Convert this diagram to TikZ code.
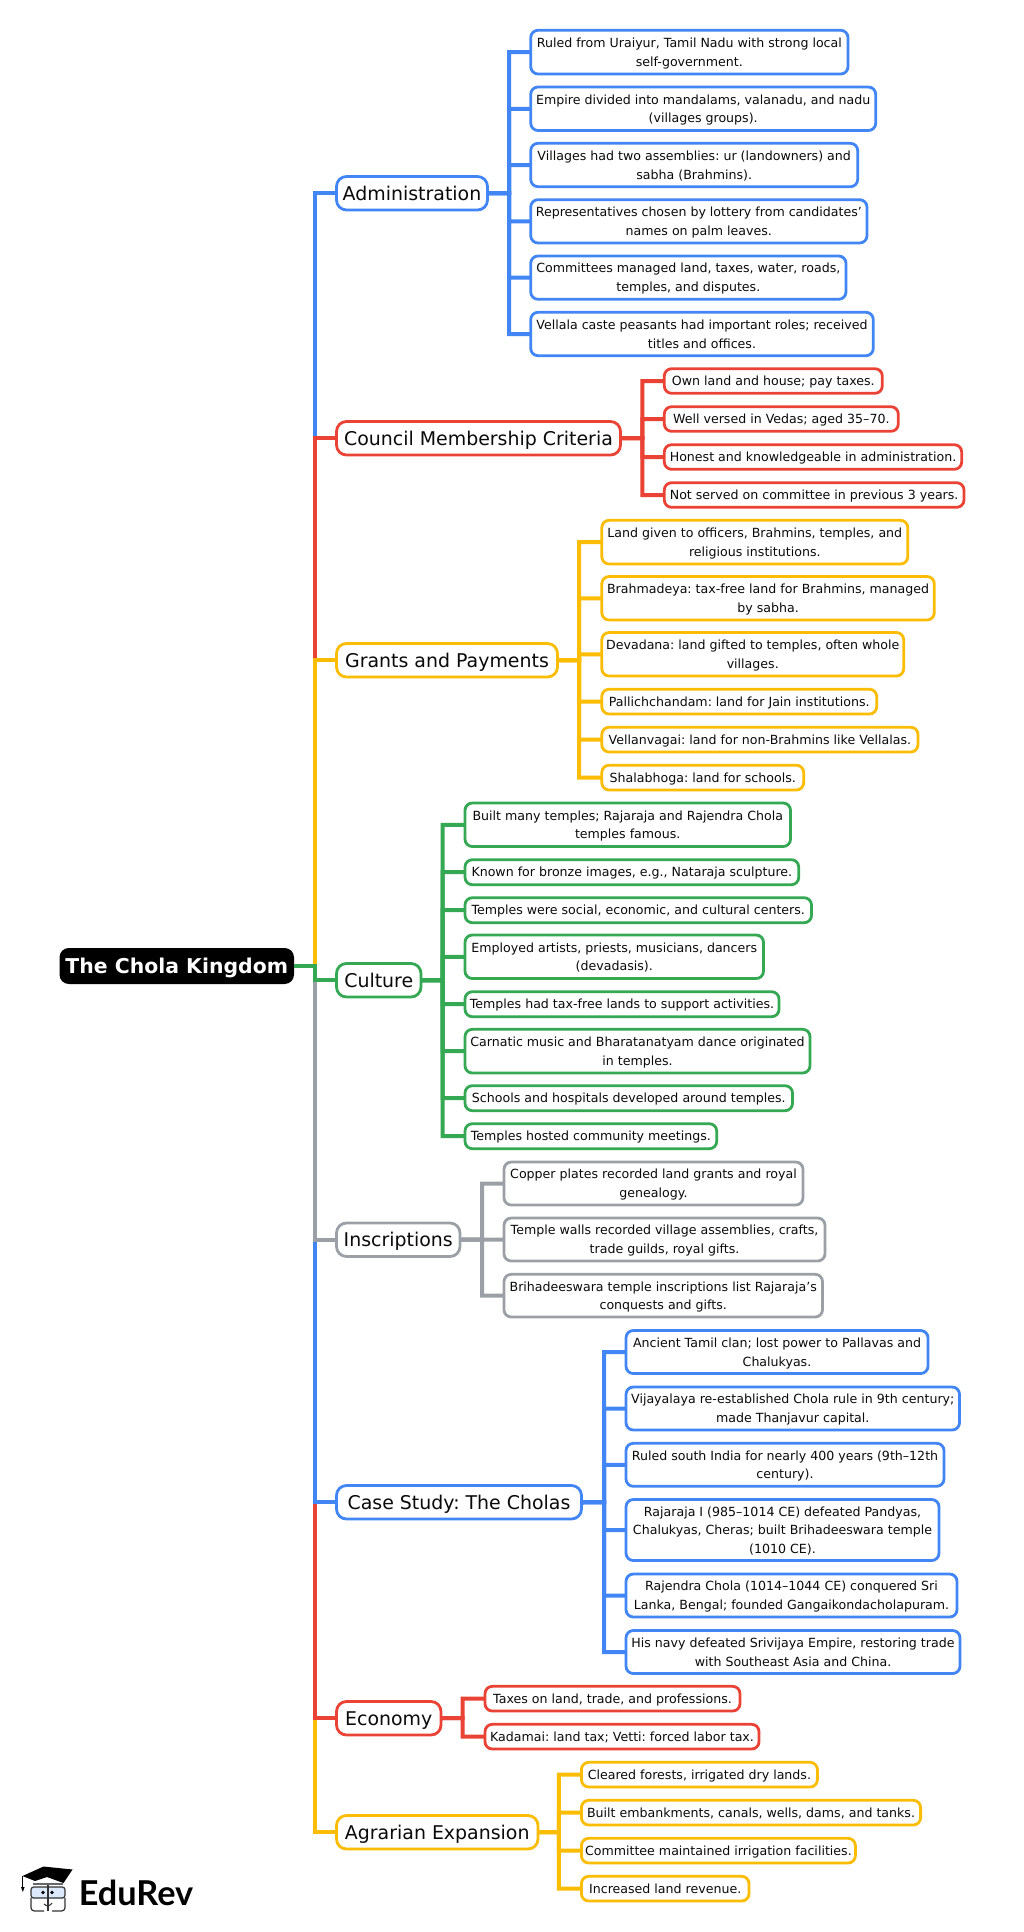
\documentclass[tikz,border=0pt]{standalone}
\usepackage{fontspec}
\setmainfont{DejaVu Sans}
\newfontfamily\logofont{Lato}
\definecolor{cblue}{HTML}{4285F4}
\definecolor{cred}{HTML}{EA4335}
\definecolor{cyel}{HTML}{FBBC04}
\definecolor{cgreen}{HTML}{34A853}
\definecolor{cgrey}{HTML}{9AA0A6}
\definecolor{ink}{HTML}{0A0A0A}
\definecolor{lens}{HTML}{DCE8FB}
\newcommand{\leafstrut}{\rule[-3.5pt]{0pt}{14pt}}
\newcommand{\branchstrut}{\rule[-3.6pt]{0pt}{18pt}}
\newcommand{\rootstrut}{\rule[-3.5pt]{0pt}{18pt}}
\frenchspacing
\tikzset{
  basebox/.style={rectangle,fill=white,inner sep=0pt,outer sep=0pt,align=center,text=ink},
  leaf/.style={basebox,line width=2.1pt,rounded corners=5.5pt,font=\frenchspacing\fontsize{9.45}{14}\selectfont},
  branch/.style={basebox,line width=2.1pt,rounded corners=7.5pt,font=\frenchspacing\fontsize{14.2}{18}\selectfont},
  rootbox/.style={rectangle,fill=black,text=white,inner sep=0pt,outer sep=0pt,rounded corners=7pt,font=\fontsize{15.3}{18}\selectfont\bfseries},
  conn/.style={line width=3pt},
  blueb/.style={draw=cblue},redb/.style={draw=cred},yelb/.style={draw=cyel},greenb/.style={draw=cgreen},greyb/.style={draw=cgrey},
}
% style, name, x1, y1, x2, y2, text
\newcommand{\bx}[7]{%
  \pgfmathsetmacro\bw{(#5-#3)*0.75}\pgfmathsetmacro\bh{(#6-#4)*0.75}%
  \node[#1,minimum width=\bw pt,minimum height=\bh pt] (#2) at ({(#3+#5)/2},{(#4+#6)/2}) {#7};}
\newcommand{\lf}[7]{\bx{leaf,#1}{#2}{#3}{#4}{#5}{#6}{\leafstrut #7\leafstrut}}
\newcommand{\br}[7]{\bx{branch,#1}{#2}{#3}{#4}{#5}{#6}{\branchstrut #7}}
\newcommand{\fan}[4]{% colour, parent, spine coordinate, leaves
  \foreach \q in {#4} {\draw[conn,#1] (#2.east) -- (#3) |- (\q.west);}}
\begin{document}
\begin{tikzpicture}[x=0.75pt,y=-0.75pt]
\useasboundingbox (0,0) rectangle (1024,1932);
\fill[white] (0,0) rectangle (1024,1932);

\bx{rootbox}{root}{59.5}{948}{294}{984}{\rootstrut The Chola Kingdom}
\coordinate (sp) at (314.8,966);

% Branches
\br{blueb}{admin}{336.5}{176.5}{487.5}{210}{Administration}
\br{redb}{council}{336.5}{421.5}{620.5}{455}{Council Membership Criteria}
\br{yelb}{grants}{336.5}{643.5}{557.5}{677}{Grants and Payments}
\br{greenb}{culture}{336.5}{963.5}{421}{997}{Culture}
\br{greyb}{inscr}{336.5}{1223}{460}{1256.5}{Inscriptions}
\br{blueb}{case}{336.5}{1485.5}{581.5}{1519}{Case Study: The Cholas}
\br{redb}{econ}{336.5}{1701.5}{441}{1735}{Economy}
\br{yelb}{agr}{336.5}{1815.5}{538}{1849}{Agrarian Expansion}

% Administration
\lf{blueb}{a1}{530.7}{30.3}{848}{74}{Ruled from Uraiyur, Tamil Nadu with strong local\\self-government.}
\lf{blueb}{a2}{530.7}{87}{875.7}{130.5}{Empire divided into mandalams, valanadu, and nadu\\(villages groups).}
\lf{blueb}{a3}{530.7}{143.3}{857.7}{186.7}{Villages had two assemblies: ur (landowners) and\\sabha (Brahmins).}
\lf{blueb}{a4}{530.7}{199.7}{867}{243}{Representatives chosen by lottery from candidates’\\names on palm leaves.}
\lf{blueb}{a5}{530.7}{256}{846}{299.3}{Committees managed land, taxes, water, roads,\\temples, and disputes.}
\lf{blueb}{a6}{530.7}{312.3}{873.3}{355.7}{Vellala caste peasants had important roles; received\\titles and offices.}
% Council
\lf{redb}{b1}{664.3}{368.7}{882.3}{393.3}{Own land and house; pay taxes.}
\lf{redb}{b2}{664.3}{406.7}{898.3}{431.3}{Well versed in Vedas; aged 35–70.}
\lf{redb}{b3}{664.3}{444.7}{961.7}{469.3}{Honest and knowledgeable in administration.}
\lf{redb}{b4}{664.3}{482.7}{964}{507.3}{Not served on committee in previous 3 years.}
% Grants
\lf{yelb}{c1}{601.8}{520.3}{907.8}{564}{Land given to officers, Brahmins, temples, and\\religious institutions.}
\lf{yelb}{c2}{601.8}{576.5}{934.3}{620}{Brahmadeya: tax-free land for Brahmins, managed\\by sabha.}
\lf{yelb}{c3}{601.8}{632.5}{903.7}{676}{Devadana: land gifted to temples, often whole\\villages.}
\lf{yelb}{c4}{601.8}{689.2}{876.7}{714}{Pallichchandam: land for Jain institutions.}
\lf{yelb}{c5}{601.8}{727.2}{918}{752}{Vellanvagai: land for non-Brahmins like Vellalas.}
\lf{yelb}{c6}{601.8}{765.2}{803.7}{790}{Shalabhoga: land for schools.}
% Culture
\lf{greenb}{d1}{465}{803}{790.5}{846.5}{Built many temples; Rajaraja and Rajendra Chola\\temples famous.}
\lf{greenb}{d2}{465}{859.7}{798.7}{884.7}{Known for bronze images, e.g., Nataraja sculpture.}
\lf{greenb}{d3}{465}{897.7}{811.5}{922.7}{Temples were social, economic, and cultural centers.}
\lf{greenb}{d4}{465}{935}{763.5}{978.5}{Employed artists, priests, musicians, dancers\\(devadasis).}
\lf{greenb}{d5}{465}{991.7}{779}{1016.7}{Temples had tax-free lands to support activities.}
\lf{greenb}{d6}{465}{1029.3}{810}{1073}{Carnatic music and Bharatanatyam dance originated\\in temples.}
\lf{greenb}{d7}{465}{1085.7}{792.5}{1110.7}{Schools and hospitals developed around temples.}
\lf{greenb}{d8}{465}{1123.7}{716.7}{1148.7}{Temples hosted community meetings.}
% Inscriptions
\lf{greyb}{e1}{504}{1162}{803}{1205}{Copper plates recorded land grants and royal\\genealogy.}
\lf{greyb}{e2}{504}{1218}{825}{1261}{Temple walls recorded village assemblies, crafts,\\trade guilds, royal gifts.}
\lf{greyb}{e3}{504}{1274.3}{822.5}{1317}{Brihadeeswara temple inscriptions list Rajaraja’s\\conquests and gifts.}
% Case study
\lf{blueb}{f1}{626}{1330.5}{928}{1373.5}{Ancient Tamil clan; lost power to Pallavas and\\Chalukyas.}
\lf{blueb}{f2}{626}{1387}{959.5}{1430}{Vijayalaya re-established Chola rule in 9th century;\\made Thanjavur capital.}
\lf{blueb}{f3}{626}{1443.3}{944}{1486.3}{Ruled south India for nearly 400 years (9th–12th\\century).}
\lf{blueb}{f4}{626}{1499.5}{939}{1560.5}{Rajaraja I (985–1014 CE) defeated Pandyas,\\Chalukyas, Cheras; built Brihadeeswara temple\\(1010 CE).}
\lf{blueb}{f5}{626}{1574}{957}{1617}{Rajendra Chola (1014–1044 CE) conquered Sri\\Lanka, Bengal; founded Gangaikondacholapuram.}
\lf{blueb}{f6}{626}{1630.5}{960}{1673.5}{His navy defeated Srivijaya Empire, restoring trade\\with Southeast Asia and China.}
% Economy
\lf{redb}{g1}{485}{1686.3}{740}{1711}{Taxes on land, trade, and professions.}
\lf{redb}{g2}{485}{1724.3}{759}{1749}{Kadamai: land tax; Vetti: forced labor tax.}
% Agrarian
\lf{yelb}{h1}{581.4}{1762.3}{817.4}{1787}{Cleared forests, irrigated dry lands.}
\lf{yelb}{h2}{581.4}{1800.3}{920.6}{1825}{Built embankments, canals, wells, dams, and tanks.}
\lf{yelb}{h3}{581.4}{1838.3}{855.4}{1863}{Committee maintained irrigation facilities.}
\lf{yelb}{h4}{581.4}{1876.3}{749}{1901}{Increased land revenue.}

% Spines of the second level
\coordinate (sa) at (509,193);
\coordinate (sb) at (642.3,438);
\coordinate (sc) at (579.2,660);
\coordinate (sd) at (442.5,980);
\coordinate (se) at (482,1239.5);
\coordinate (sf) at (604,1502);
\coordinate (sg) at (462.7,1718);
\coordinate (sh) at (558.8,1832);

\fan{cblue}{admin}{sa}{a1,a2,a3,a4,a5,a6}
\fan{cred}{council}{sb}{b1,b2,b3,b4}
\fan{cyel}{grants}{sc}{c1,c2,c3,c4,c5,c6}
\fan{cgreen}{culture}{sd}{d1,d2,d3,d4,d5,d6,d7,d8}
\fan{cgrey}{inscr}{se}{e1,e2,e3}
\fan{cblue}{case}{sf}{f1,f2,f3,f4,f5,f6}
\fan{cred}{econ}{sg}{g1,g2}
\fan{cyel}{agr}{sh}{h1,h2,h3,h4}

% Trunk, outermost first so that nearer branches overlap
\draw[conn,cblue] (root.east) -- (sp) |- (admin.west);
\draw[conn,cyel] (root.east) -- (sp) |- (agr.west);
\draw[conn,cred] (root.east) -- (sp) |- (council.west);
\draw[conn,cred] (root.east) -- (sp) |- (econ.west);
\draw[conn,cyel] (root.east) -- (sp) |- (grants.west);
\draw[conn,cblue] (root.east) -- (sp) |- (case.west);
\draw[conn,cgrey] (root.east) -- (sp) |- (inscr.west);
\draw[conn,cgreen] (root.east) -- (sp) |- (culture.west);

% Logo
\node[anchor=base west,inner sep=0pt,text=black,font=\fontsize{25.7}{30}\logofont\bfseries] (logo) at (78.5,1905) {EduRev};
\draw[black!80,line width=0.9pt,rounded corners=2.5pt] (31,1898) -- (31,1911) -- (44,1911);
\draw[black!80,line width=0.9pt,rounded corners=2.5pt] (65,1898) -- (65,1911) -- (52,1911);
\filldraw[fill=lens,draw=black!80,line width=0.9pt,rounded corners=2pt] (31,1887) rectangle (65,1898);
\draw[black!80,line width=0.9pt] (48,1884) -- (48,1911);
\fill[black] (43,1892.5) circle (1.8);
\fill[black] (52,1892.5) circle (1.8);
\draw[black!80,line width=0.8pt] (44,1904) .. controls (47,1907) and (50,1906) .. (52,1903);
\draw[black!60,line width=1pt] (33,1884) -- (63,1884);
\fill[black] (22.5,1876) -- (43.5,1866.5) -- (72.5,1869.5) -- (63.5,1883) -- (47,1877) -- (35,1881) -- cycle;
\draw[black,line width=0.7pt] (22.8,1876) -- (22.8,1887);
\fill[black] (21,1887) -- (24.6,1887) -- (22.8,1892) -- cycle;
\end{tikzpicture}
\end{document}
